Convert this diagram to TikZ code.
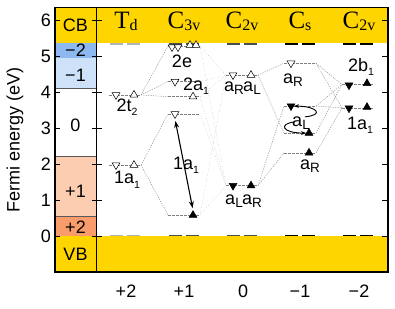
\documentclass[tikz,border=0pt]{standalone}
\usepackage{fontspec}
\setmainfont{Liberation Sans}
\newfontfamily\hdrserif{Liberation Serif}
\usepackage{tikz}
\usetikzlibrary{arrows.meta,shapes.geometric}
\definecolor{bandyellow}{HTML}{FFD500}
\definecolor{chargemtwo}{HTML}{8DB9F0}
\definecolor{chargemone}{HTML}{CDE1F9}
\definecolor{chargepone}{HTML}{FDCDB1}
\definecolor{chargeptwo}{HTML}{F99C6C}

\newcommand{\labsize}{\fontsize{18}{21}\selectfont}
\newcommand{\hdrsize}{\fontsize{25}{28}\selectfont}
\newcommand{\rsub}[1]{\raisebox{-0.3ex}{\fontsize{13.5}{15}\selectfont #1}}
\newcommand{\nsub}[1]{\raisebox{-0.45ex}{\fontsize{10.5}{12}\selectfont #1}}
\newcommand{\hsub}[1]{\raisebox{-1.5pt}{\fontsize{16}{18}\selectfont #1}}

% one defect level across a column: name, column centre, energy
\newcommand{\energylevel}[3]{%
  \coordinate (#1-l) at (#2-16,#3);
  \coordinate (#1-r) at (#2+16,#3);
  \draw[lvl] (#1-l) -- (#1-r);}

\begin{document}
\begin{tikzpicture}[x=1pt, y=36pt, >=Stealth,
  tri/.style={regular polygon, regular polygon sides=3, draw=black, line width=0.5pt, inner sep=0pt, minimum size=9pt},
  emptyup/.style={tri, fill=white},
  emptydn/.style={tri, fill=white, shape border rotate=180},
  fillup/.style={tri, fill=black},
  filldn/.style={tri, fill=black, shape border rotate=180},
  lvl/.style={gray, dash pattern=on 2.5pt off 1.5pt, line width=0.5pt},
  corr/.style={gray!85, dash pattern=on 1.2pt off 1.2pt, line width=0.5pt},
  corrlight/.style={gray!55, dotted, line width=0.5pt},
  bandedge/.style={line width=1.5pt},
  lab/.style={font=\labsize, inner sep=0pt},
  hdr/.style={font=\hdrserif\hdrsize, anchor=base, inner sep=0pt}]
  \useasboundingbox (0,-2) rectangle (395,6.556);

  % bands and charge states
  \fill[bandyellow] (55,5.35) rectangle (388,6.35);
  \fill[bandyellow] (55,-1) rectangle (388,0);
  \fill[chargemtwo] (55,4.95) rectangle (96.5,5.35);
  \fill[chargemone] (55,4.1) rectangle (96.5,4.95);
  \fill[chargepone] (55,0.54) rectangle (96.5,2.2);
  \fill[chargeptwo] (55,0) rectangle (96.5,0.54);
  \draw[gray!70!black, line width=0.8pt] (55,4.1) -- (96.5,4.1);
  \draw[gray!70!black, line width=0.8pt] (55,2.2) -- (96.5,2.2);
  \draw[gray!70!black, line width=0.8pt] (55,0.54) -- (96.5,0.54);

  \node[lab] (cb) at (75.5,5.86) {CB};
  \node[lab] (qmtwo) at (75.5,5.17) {−2};
  \node[lab] (qmone) at (75.5,4.47) {−1};
  \node[lab] (qzero) at (75.5,3.08) {0};
  \node[lab] (qpone) at (75.5,1.25) {+1};
  \node[lab] (qptwo) at (75.5,0.24) {+2};
  \node[lab] (vb) at (75.5,-0.5) {VB};

  % band edges per column
  \foreach \c/\col in {125/gray!60, 184/black!70, 242/black!70, 300/black, 358/black}{
    \draw[bandedge, color=\col] (\c-15,5.33) -- (\c-2,5.33) (\c+2,5.33) -- (\c+15,5.33);
    \draw[bandedge, color=\col] (\c-15,0.02) -- (\c-2,0.02) (\c+2,0.02) -- (\c+15,0.02);
  }

  % levels
  \energylevel{td2t}{125}{3.92}
  \energylevel{td1a}{125}{1.97}
  \energylevel{c3v2e}{184}{5.28}
  \energylevel{c3v2aD}{184}{4.29}
  \energylevel{c3v2aU}{184}{3.87}
  \energylevel{c3v1aD}{184}{3.39}
  \energylevel{c3v1aU}{184}{0.58}
  \energylevel{c2vup}{242}{4.47}
  \energylevel{c2vlo}{242}{1.40}
  \energylevel{csRd}{300}{4.80}
  \energylevel{csLd}{300}{3.61}
  \energylevel{csLu}{300}{2.86}
  \energylevel{csRu}{300}{2.31}
  \energylevel{ctwob}{358}{4.21}
  \energylevel{conea}{358}{3.56}

  % correlation lines
  \foreach \a/\b in {td2t/c3v2e, td2t/c3v2aD, td2t/c3v2aU, td1a/c3v1aD, td1a/c3v1aU,
                     c2vup/csRd, c2vup/csLu, c2vlo/csLd, c2vlo/csRu,
                     csRd/ctwob, csRd/conea, csLd/conea, csLu/ctwob, csRu/conea, csLd/ctwob}
    \draw[corr] (\a-r) -- (\b-l);
  \foreach \a/\b in {c3v2e/c2vup, c3v2e/c2vlo, c3v2aD/c2vup, c3v2aU/c2vup, c3v2aU/c2vlo,
                     c3v1aD/c2vlo, c3v1aU/c2vup, c3v1aU/c2vlo}
    \draw[corrlight] (\a-r) -- (\b-l);

  % spin markers
  \node[emptydn] (td2t-dn) at (116,3.92) {};
  \node[emptyup] (td2t-up) at (134,3.92) {};
  \node[emptydn] (td1a-dn) at (116,1.97) {};
  \node[emptyup] (td1a-up) at (134,1.97) {};
  \node[emptydn] (c3v2e-dna) at (172,5.25) {};
  \node[emptydn] (c3v2e-dnb) at (178,5.25) {};
  \node[emptyup] (c3v2e-upa) at (190,5.30) {};
  \node[emptyup] (c3v2e-upb) at (196,5.30) {};
  \node[emptydn] (c3v2aD-dn) at (175,4.29) {};
  \node[emptyup] (c3v2aU-up) at (193,3.87) {};
  \node[emptydn] (c3v1aD-dn) at (175,3.39) {};
  \node[fillup] (c3v1aU-up) at (193,0.58) {};
  \node[emptydn] (c2vup-dn) at (233,4.47) {};
  \node[emptyup] (c2vup-up) at (251,4.47) {};
  \node[filldn] (c2vlo-dn) at (233,1.40) {};
  \node[fillup] (c2vlo-up) at (251,1.40) {};
  \node[emptydn] (csRd-dn) at (291,4.80) {};
  \node[filldn] (csLd-dn) at (291,3.61) {};
  \node[fillup] (csLu-up) at (309,2.86) {};
  \node[fillup] (csRu-up) at (309,2.31) {};
  \node[filldn] (ctwob-dn) at (349,4.19) {};
  \node[fillup] (ctwob-up) at (367,4.24) {};
  \node[filldn] (conea-dn) at (349,3.55) {};
  \node[fillup] (conea-up) at (367,3.58) {};

  % transitions
  \draw[{Stealth[length=7pt,width=5pt]}-{Stealth[length=7pt,width=5pt]}, line width=1.1pt,
        shorten <=2pt, shorten >=2pt] (c3v1aD-dn.south) -- (c3v1aU-up.north);
  \coordinate (loopa) at (305,3.31);
  \coordinate (loopb) at (295,3.17);
  \draw[-{Stealth[length=5pt]}, line width=0.9pt] (loopa) .. controls (324,3.36) and (318,3.6) .. (csLd-dn.east);
  \draw[-{Stealth[length=5pt]}, line width=0.9pt] (loopb) .. controls (278,3.12) and (282,2.86) .. (csLu-up.west);

  % level labels
  \node[lab] (ltd2t) at (127,3.58) {2t\nsub{2}};
  \node[lab] (ltd1a) at (127,1.56) {1a\nsub{1}};
  \node[lab] (lc2e) at (182,4.86) {2e};
  \node[lab] (lc2a) at (196,4.17) {2a\nsub{1}};
  \node[lab] (lc1a) at (186,1.97) {1a\nsub{1}};
  \node[lab] (lvur) at (234,4.11) {a\rsub{R}};
  \node[lab] (lvul) at (252,4.11) {a\rsub{L}};
  \node[lab] (lvll) at (234,0.97) {a\rsub{L}};
  \node[lab] (lvlr) at (252,0.97) {a\rsub{R}};
  \node[lab] (lsur) at (293,4.33) {a\rsub{R}};
  \node[lab] (lsml) at (301,3.14) {a\rsub{L}};
  \node[lab] (lslr) at (310,1.94) {a\rsub{R}};
  \node[lab] (lw2b) at (361,4.69) {2b\nsub{1}};
  \node[lab] (lw1a) at (360,3.08) {1a\nsub{1}};

  % headers
  \node[hdr] (htd) at (126,5.76) {T\hsub{d}};
  \node[hdr] (hc3v) at (184,5.76) {C\hsub{3v}};
  \node[hdr] (hc2v) at (242,5.76) {C\hsub{2v}};
  \node[hdr] (hcs) at (300,5.76) {C\hsub{s}};
  \node[hdr] (hw2v) at (359,5.76) {C\hsub{2v}};

  % charge of each structure
  \node[lab] (ntd) at (126,-1.53) {+2};
  \node[lab] (nc3v) at (184,-1.53) {+1};
  \node[lab] (nc2v) at (243,-1.53) {0};
  \node[lab] (ncs) at (300,-1.53) {−1};
  \node[lab] (nw2v) at (359,-1.53) {−2};

  % axis and frame
  \foreach \e in {0,...,6}{
    \draw[thick] (55,\e) -- (60,\e);
    \draw[thick] (91.5,\e) -- (101.5,\e);
    \draw[thick] (382,\e) -- (388,\e);
    \node[lab, anchor=east] (tick\e) at (51,\e) {\e};
  }
  \node[lab, rotate=90] (ylab) at (15,2.67) {Fermi energy (eV)};
  \draw[line width=1.2pt] (55,-1) rectangle (388,6.35);
  \draw[line width=1.2pt] (96.5,-1) -- (96.5,6.35);
\end{tikzpicture}
\end{document}
